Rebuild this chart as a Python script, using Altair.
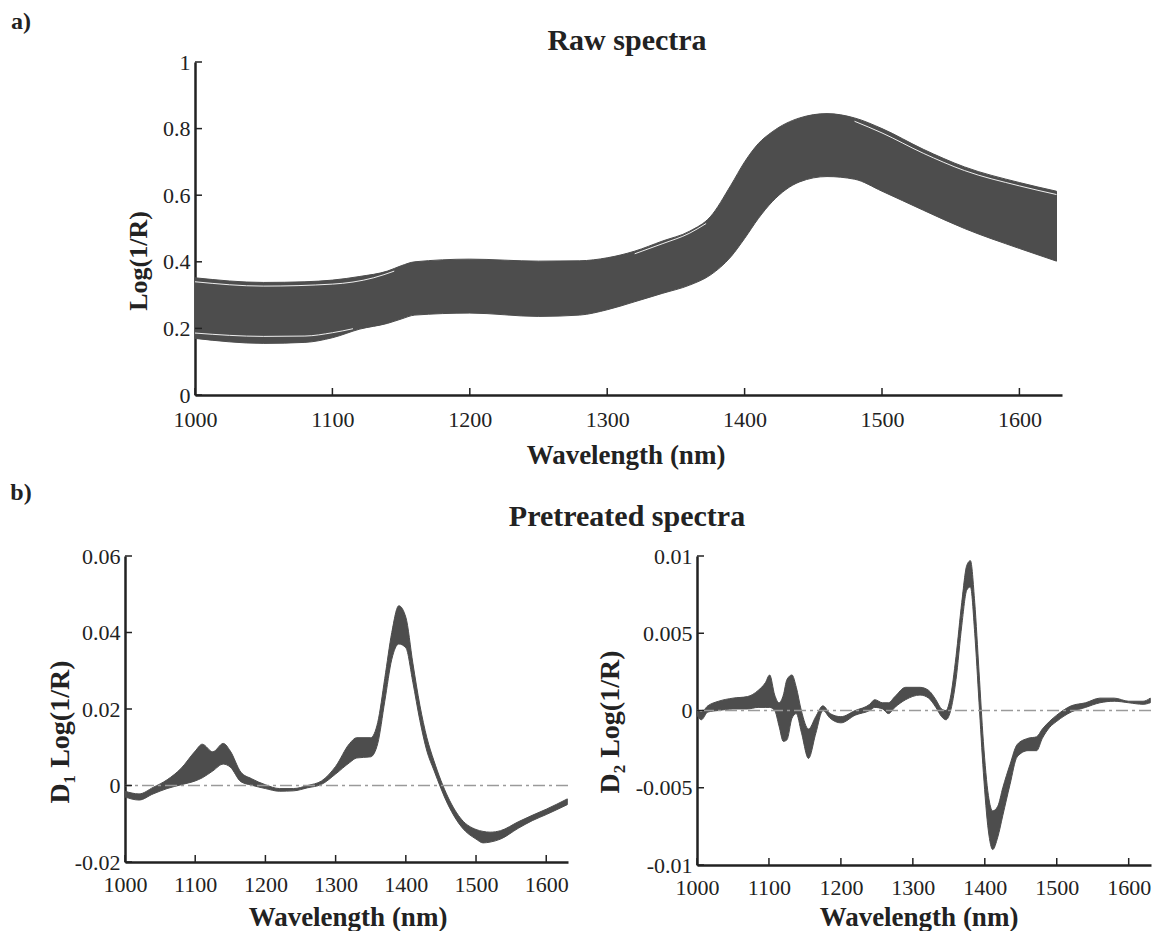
import altair as alt
import pandas as pd

FONT = "Liberation Serif"
BAND = "#4d4d4d"
AXC = "#222222"
ZERO = "#9a9a9a"

# ---------------- data: raw spectra envelope ----------------
raw_w = [1000, 1050, 1080, 1100, 1120, 1140, 1150, 1160, 1200, 1250, 1280, 1300, 1320, 1340,
         1360, 1375, 1390, 1400, 1410, 1420, 1440, 1460, 1480, 1500, 1530, 1560, 1600, 1627]
raw_hi = [0.352, 0.338, 0.340, 0.345, 0.356, 0.372, 0.388, 0.400, 0.408, 0.402, 0.403, 0.412, 0.432, 0.462,
          0.492, 0.535, 0.630, 0.700, 0.755, 0.790, 0.832, 0.845, 0.832, 0.800, 0.738, 0.685, 0.638, 0.612]
raw_lo = [0.170, 0.155, 0.158, 0.172, 0.198, 0.215, 0.228, 0.240, 0.246, 0.236, 0.240, 0.256, 0.280, 0.305,
          0.330, 0.360, 0.415, 0.470, 0.530, 0.580, 0.640, 0.656, 0.648, 0.612, 0.555, 0.500, 0.440, 0.402]

# thin white gaps between individual spectra
gap_seg = ["t1"] * 5 + ["b1"] * 5 + ["t2"] * 4 + ["t3"] * 6
gap_w = [1000, 1050, 1100, 1130, 1145,
         1000, 1050, 1080, 1100, 1115,
         1320, 1340, 1360, 1372,
         1480, 1500, 1530, 1560, 1600, 1627]
gap_v = [0.340, 0.327, 0.333, 0.352, 0.372,
         0.186, 0.176, 0.177, 0.187, 0.199,
         0.424, 0.454, 0.486, 0.515,
         0.822, 0.787, 0.726, 0.674, 0.628, 0.602]

# ---------------- data: first derivative ----------------
d1_w = [1000, 1020, 1040, 1060, 1080, 1100, 1110, 1125, 1140, 1150, 1165, 1180, 1200, 1220, 1240, 1260,
        1280, 1300, 1320, 1330, 1350, 1360, 1370, 1380, 1390, 1400, 1410, 1420, 1430, 1440, 1460, 1480,
        1500, 1510, 1520, 1535, 1560, 1580, 1600, 1630]
d1_hi = [-0.0015, -0.0022, -0.0005, 0.0015, 0.0045, 0.0090, 0.0108, 0.0088, 0.0110, 0.0090, 0.0035, 0.0018,
         0.0002, -0.0008, -0.0008, 0.0000, 0.0012, 0.0050, 0.0110, 0.0125, 0.0125, 0.0165, 0.0280, 0.0400,
         0.0470, 0.0440, 0.0320, 0.0210, 0.0125, 0.0065, -0.0030, -0.0090, -0.0115, -0.0120, -0.0122,
         -0.0118, -0.0095, -0.0078, -0.0062, -0.0035]
d1_lo = [-0.0030, -0.0038, -0.0022, -0.0008, 0.0002, 0.0012, 0.0020, 0.0038, 0.0056, 0.0048, 0.0010, 0.0001,
         -0.0008, -0.0015, -0.0014, -0.0006, 0.0003, 0.0030, 0.0060, 0.0072, 0.0075, 0.0110, 0.0220, 0.0330,
         0.0370, 0.0360, 0.0270, 0.0170, 0.0090, 0.0040, -0.0050, -0.0110, -0.0140, -0.0150, -0.0148,
         -0.0140, -0.0112, -0.0092, -0.0076, -0.0050]

# ---------------- data: second derivative ----------------
d2_w = [1000, 1006, 1015, 1030, 1050, 1070, 1085, 1095, 1101, 1108, 1114, 1120, 1125, 1132, 1138, 1145,
        1155, 1165, 1175, 1185, 1200, 1220, 1240, 1247, 1258, 1266, 1275, 1290, 1310, 1322, 1332, 1340,
        1346, 1352, 1360, 1368, 1375, 1380, 1386, 1392, 1398, 1405, 1411, 1418, 1425, 1435, 1445, 1460,
        1472, 1480, 1490, 1500, 1520, 1540, 1560, 1580, 1600, 1620, 1630]
d2_hi = [0.0000, -0.0001, 0.0003, 0.0006, 0.0008, 0.0009, 0.0013, 0.0018, 0.0023, 0.0010, 0.0005, 0.0010,
         0.0020, 0.0023, 0.0015, 0.0000, -0.0012, -0.0004, 0.0003, -0.0002, -0.0004, 0.0000, 0.0004, 0.0007,
         0.0005, 0.0005, 0.0009, 0.0015, 0.0015, 0.0013, 0.0007, 0.0001, 0.0000, 0.0008, 0.0035, 0.0070,
         0.0094, 0.0097, 0.0070, 0.0025, -0.0020, -0.0055, -0.0065, -0.0062, -0.0050, -0.0035, -0.0022,
         -0.0018, -0.0017, -0.0012, -0.0007, -0.0003, 0.0003, 0.0005, 0.0008, 0.0008, 0.0006, 0.0006, 0.0008]
d2_lo = [-0.0003, -0.0006, -0.0001, 0.0000, 0.0001, 0.0001, 0.0002, 0.0002, 0.0002, 0.0000, -0.0010, -0.0020,
         -0.0019, -0.0005, -0.0002, -0.0014, -0.0031, -0.0015, 0.0000, -0.0005, -0.0008, -0.0003, 0.0000,
         0.0002, 0.0001, -0.0002, 0.0002, 0.0007, 0.0010, 0.0008, 0.0002, -0.0004, -0.0006, -0.0001, 0.0020,
         0.0055, 0.0078, 0.0080, 0.0050, 0.0005, -0.0040, -0.0078, -0.0090, -0.0082, -0.0068, -0.0048,
         -0.0030, -0.0026, -0.0026, -0.0018, -0.0011, -0.0007, -0.0001, 0.0002, 0.0005, 0.0006, 0.0005,
         0.0004, 0.0005]

# ---------------- ticks and texts ----------------
x_ticks = [1000, 1100, 1200, 1300, 1400, 1500, 1600]
raw_y_ticks = [0, 0.2, 0.4, 0.6, 0.8, 1]
d1_y_ticks = [-0.02, 0, 0.02, 0.04, 0.06]
d2_y_ticks = [-0.01, -0.005, 0, 0.005, 0.01]
panel_labels = ["a)", "b)"]
titles = ["Raw spectra", "Pretreated spectra"]
x_title = "Wavelength (nm)"
y_titles = ["Log(1/R)", "D\u2081 Log(1/R)", "D\u2082 Log(1/R)"]

LABEL_EXPR = "(datum.value < 0 ? '-' : '') + format(abs(datum.value), '~g')"


def x_axis(pad):
    return alt.Axis(values=x_ticks, ticks=False, grid=False, domainColor=AXC, domainWidth=2.5,
                    labelFont=FONT, labelFontSize=22, labelColor=AXC, labelPadding=pad,
                    labelOverlap=False, labelFlush=False, title=None, format="d")


def y_axis(vals):
    return alt.Axis(values=vals, ticks=False, grid=False, domainColor=AXC, domainWidth=2.5,
                    labelFont=FONT, labelFontSize=22, labelColor=AXC, labelPadding=5,
                    labelOverlap=False, labelFlush=False, title=None, labelExpr=LABEL_EXPR)


def text_layer(txt, x, y, size, angle=0):
    return alt.Chart(pd.DataFrame({"t": [txt]})).mark_text(
        font=FONT, fontSize=size, fontWeight="bold", color=AXC, angle=angle,
        align="center", baseline="middle"
    ).encode(x=alt.value(x), y=alt.value(y), text="t:N")


def panel(w, hi, lo, xdom, ydom, yt, width, height, xpad, zero=False, extra=None):
    xs = alt.Scale(domain=xdom, nice=False, zero=False)
    ys = alt.Scale(domain=ydom, nice=False, zero=False)
    df = pd.DataFrame({"w": w, "v": hi, "v2": lo})
    area = alt.Chart(df).mark_area(color=BAND, interpolate="monotone", stroke=BAND,
                                   strokeWidth=1).encode(
        x=alt.X("w:Q", scale=xs, axis=x_axis(xpad)),
        y=alt.Y("v:Q", scale=ys, axis=y_axis(yt)),
        y2="v2:Q",
    )
    layers = [area]
    if extra is not None:
        layers.append(extra(xs, ys))
    if zero:
        layers.append(alt.Chart(pd.DataFrame({"v": [0.0]})).mark_rule(
            color=ZERO, strokeWidth=1.6, strokeDash=[12, 4, 3, 4]).encode(
            y=alt.Y("v:Q", scale=ys)))
    xt = alt.Chart(pd.DataFrame({"w": x_ticks})).mark_rule(color=AXC, strokeWidth=1.5).encode(
        x=alt.X("w:Q", scale=xs), y=alt.value(height), y2=alt.value(height - 7))
    ytk = alt.Chart(pd.DataFrame({"v": yt})).mark_rule(color=AXC, strokeWidth=1.5).encode(
        y=alt.Y("v:Q", scale=ys), x=alt.value(0), x2=alt.value(7))
    layers += [xt, ytk]
    return layers


def gaps(xs, ys):
    return alt.Chart(pd.DataFrame({"w": gap_w, "v": gap_v, "s": gap_seg})).mark_line(
        color="white", strokeWidth=1, interpolate="monotone", opacity=0.9).encode(
        x=alt.X("w:Q", scale=xs), y=alt.Y("v:Q", scale=ys), detail="s:N")


TW, TH = 867, 333
LW, LH = 443, 306
RW, RH = 454, 309

top_layers = panel(raw_w, raw_hi, raw_lo, [1000, 1631], [0, 1], raw_y_ticks, TW, TH, 14, extra=gaps)
top_layers += [
    text_layer(panel_labels[0], -174, -40, 24),
    text_layer(titles[0], 432, -21, 30),
    text_layer(x_title, 431, 394, 27),
    text_layer(y_titles[0], -56, 199, 26, angle=270),
]
top = alt.layer(*top_layers).properties(width=TW, height=TH)

left_layers = panel(d1_w, d1_hi, d1_lo, [1000, 1631], [-0.02, 0.06], d1_y_ticks, LW, LH, 12, zero=True)
left_layers += [
    text_layer(panel_labels[1], -104, -63, 24),
    text_layer(titles[1], 502, -39, 30),
    text_layer(x_title, 223, 362, 27),
    text_layer(y_titles[1], -64, 176, 28, angle=270),
]
left = alt.layer(*left_layers).properties(width=LW, height=LH)

right_layers = panel(d2_w, d2_hi, d2_lo, [1000, 1631], [-0.01, 0.01], d2_y_ticks, RW, RH, 12, zero=True)
right_layers += [
    text_layer(x_title, 222, 362, 27),
    text_layer(y_titles[2], -86, 166, 28, angle=270),
]
right = alt.layer(*right_layers).properties(width=RW, height=RH)

spacer = alt.Chart(pd.DataFrame({"a": [0]})).mark_point(opacity=0).encode(
    x=alt.X("a:Q", axis=None), y=alt.Y("a:Q", axis=None)).properties(width=70, height=10)

top_row = alt.hconcat(spacer, top, spacing=0, bounds="flush")
bottom_row = alt.hconcat(left, right, spacing=129, bounds="flush")

# with flush bounds the nested row counts as zero height, so the gap includes the top plot height
chart = alt.vconcat(top_row, bottom_row, spacing=161 + TH, bounds="flush").properties(
    padding={"left": 2, "top": 2, "right": 0, "bottom": 0},
    background="white",
).configure_view(strokeWidth=0, stroke="transparent")

chart.save("out.html", embed_options={"renderer": "svg", "actions": False})
